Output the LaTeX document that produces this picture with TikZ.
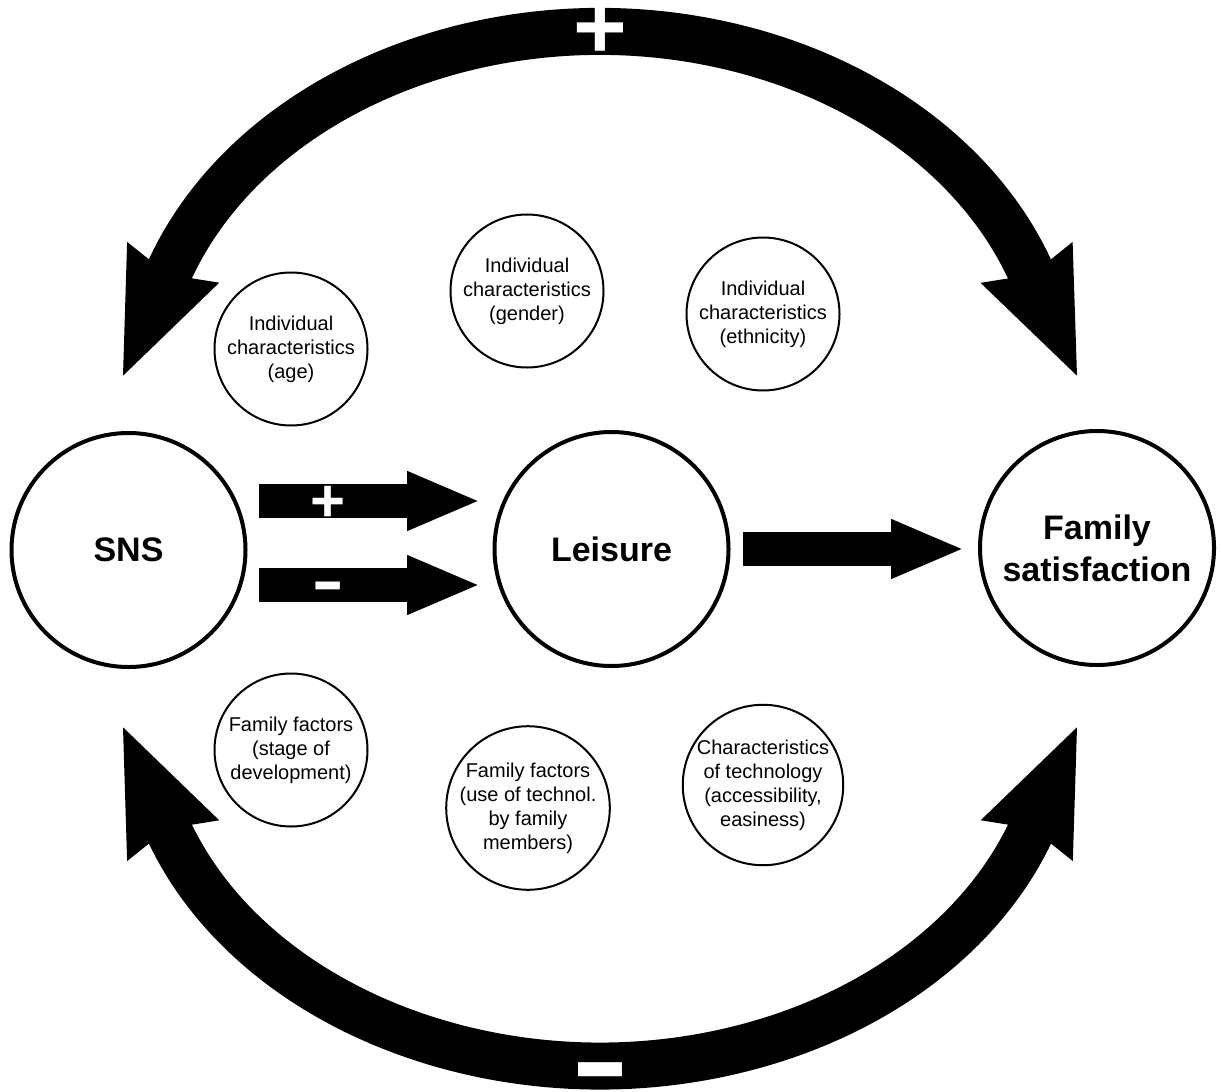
\documentclass[tikz,border=0pt]{standalone}
\usepackage{fontspec}
\setmainfont{Liberation Sans}
\usetikzlibrary{arrows.meta,calc}
\begin{document}
\begin{tikzpicture}[x=1pt,y=-1pt,
  bigc/.style={circle,draw,line width=4pt,minimum size=234pt,inner sep=0pt,align=center,font=\fontsize{34}{42}\selectfont\bfseries},
  smallc/.style={circle,draw,line width=2pt,minimum size=153pt,inner sep=0pt,align=center,font=\fontsize{20}{24}\selectfont},
  blockarrow/.style={line width=34pt,-{Triangle[length=74pt,width=54pt]}},
  bigarrow/.style={line width=47pt,{Stealth[length=122pt,width=92pt,inset=9pt]}-{Stealth[length=122pt,width=92pt,inset=9pt]}},
  pluslbl/.style={text=white,font=\fontsize{#1}{#1}\selectfont\bfseries,inner sep=0pt,anchor=base},
  minuslbl/.style={text=white,font=\fontsize{#1}{#1}\selectfont,inner sep=0pt,anchor=base}
]
\useasboundingbox (0,0) rectangle (1222,1091);

% main nodes
\node[bigc] (SNS) at (128.5,550) {SNS};
\node[bigc] (L) at (611.5,549) {Leisure};
\node[bigc] (FS) at (1097,548) {Family\\satisfaction};

% factor circles
\node[smallc] (age) at (291,349) {Individual\\characteristics\\(age)};
\node[smallc] (gender) at (527,291) {Individual\\characteristics\\(gender)};
\node[smallc] (eth) at (763,314) {Individual\\characteristics\\(ethnicity)};
\node[smallc] (stage) at (291,750) {Family factors\\(stage of\\development)};
\node[smallc] (use) at (528,808) {Family factors\\(use of technol.\\by family\\members)};
\node[smallc] (tech) at (763,785) {Characteristics\\of technology\\(accessibility,\\easiness)};

% block arrows
\draw[blockarrow] ($(SNS.center)+(130.5,-49)$) -- ($(L.center)+(-130.5,-48)$);
\draw[blockarrow] ($(SNS.center)+(130.5,35)$) -- ($(L.center)+(-130.5,36)$);
\draw[blockarrow] ($(L.center)+(131.5,0)$) -- ($(FS.center)+(-132,1)$);
\node[pluslbl=60] (p1) at (328,521) {+};
\node[minuslbl=100] (m1) at (328,612) {-};

% big curved arrows
\coordinate (tl1) at (122,378);
\coordinate (sl1) at (168,274);
\coordinate (tr1) at (1078,378);
\draw[bigarrow] (tl1) -- (sl1) arc[start angle=199.44,end angle=340.56,x radius=458,y radius=363.5] -- (tr1);
\coordinate (tl2) at (122,725);
\coordinate (sl2) at (168,829);
\coordinate (tr2) at (1078,725);
\draw[bigarrow] (tl2) -- (sl2) arc[start angle=160.24,end angle=19.76,x radius=459,y radius=358] -- (tr2);
\node[pluslbl=92,text height=52pt,text depth=-10pt] (p2) at (600,59) {+};
\node[minuslbl=180,text height=56pt,text depth=-38pt] (m2) at (600,1117) {-};
\end{tikzpicture}
\end{document}
